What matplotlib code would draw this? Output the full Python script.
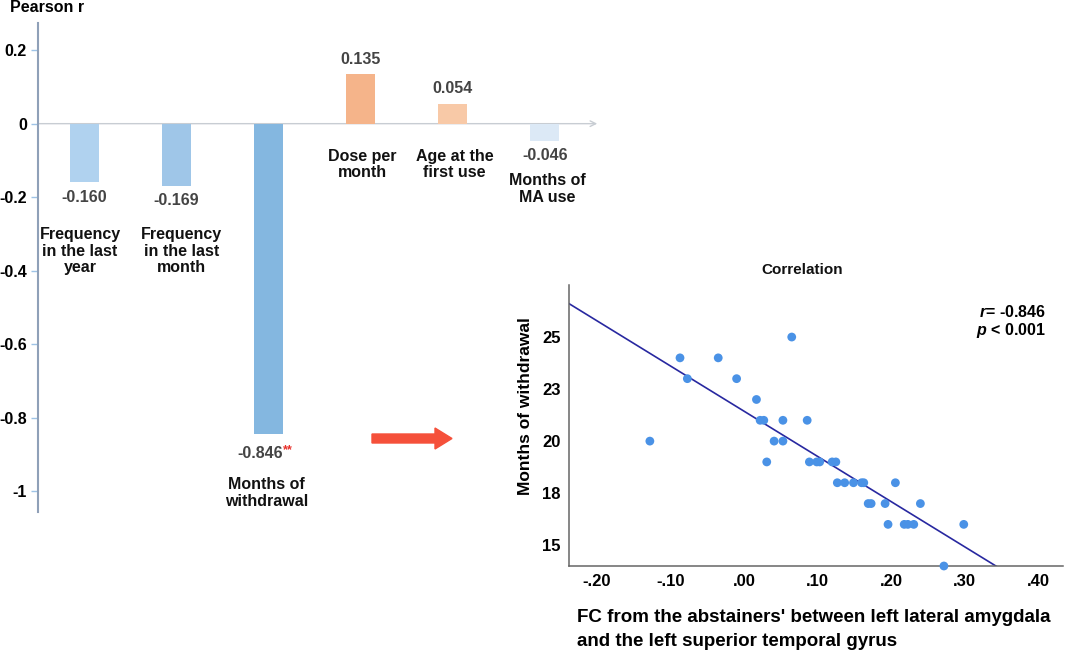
import numpy as np
import matplotlib.pyplot as plt

plt.rcParams['font.family'] = ['Liberation Sans', 'DejaVu Sans']
plt.rcParams['mathtext.fontset'] = 'custom'
plt.rcParams['mathtext.it'] = 'Liberation Sans:italic:bold'

# bar chart data
categories = ["Frequency\nin the last\nyear", "Frequency\nin the last\nmonth", "Months of\nwithdrawal",
              "Dose per\nmonth", "Age at the\nfirst use", "Months of\nMA use"]
pearson_r = [-0.160, -0.169, -0.846, 0.135, 0.054, -0.046]
value_text = ["-0.160", "-0.169", "-0.846", "0.135", "0.054", "-0.046"]
significance = ["", "", "**", "", "", ""]
bar_colors = ["#b0d2ef", "#9fc6e8", "#84b7e0", "#f5b48a", "#f8c9a7", "#dce9f6"]
y_ticks = [0.2, 0, -0.2, -0.4, -0.6, -0.8, -1]
y_tick_labels = ["0.2", "0", "-0.2", "-0.4", "-0.6", "-0.8", "-1"]

# scatter data (FC vs months of withdrawal)
fc_x = [-0.128, -0.087, -0.077, -0.035, -0.010,
        0.017, 0.022, 0.027, 0.053, 0.065,
        0.086, 0.041, 0.053, 0.031, 0.089,
        0.099, 0.103, 0.120, 0.125, 0.127,
        0.137, 0.149, 0.160, 0.163, 0.206,
        0.169, 0.173, 0.192, 0.240, 0.196,
        0.218, 0.223, 0.231, 0.299, 0.272]
months_y = [20, 24, 23, 24, 23,
            22, 21, 21, 21, 25,
            21, 20, 20, 19, 19,
            19, 19, 19, 19, 18,
            18, 18, 18, 18, 18,
            17, 17, 17, 17, 16,
            16, 16, 16, 16, 14]
sc_xticks = [-0.2, -0.1, 0.0, 0.1, 0.2, 0.3, 0.4]
sc_xtick_labels = ["-.20", "-.10", ".00", ".10", ".20", ".30", ".40"]
sc_yticks = [15, 17.5, 20, 22.5, 25]
sc_ytick_labels = ["15", "18", "20", "23", "25"]

W, H = 1065, 652
fig = plt.figure(figsize=(W / 100, H / 100), dpi=100)


def fx(px):
    return px / W


def fy(py):
    return 1 - py / H


# ---- bar chart ----
ax = fig.add_axes([fx(38), fy(512), fx(600 - 38), (512 - 23) / H])
xpos = np.arange(len(pearson_r))
ax.bar(xpos, pearson_r, width=0.315, color=bar_colors, zorder=3)
ax.set_xlim(-0.505, 5.60)
ax.set_ylim(-1.057, 0.274)
for s in ['top', 'right', 'bottom']:
    ax.spines[s].set_visible(False)
ax.spines['left'].set_color('#8fa0b8')
ax.spines['left'].set_linewidth(1.5)
ax.set_xticks([])
ax.set_yticks(y_ticks)
ax.set_yticklabels(y_tick_labels, fontsize=11.5, fontweight='bold')
ax.tick_params(axis='y', direction='out', length=5, width=1, color='#9ec3e6', pad=3)
ax.annotate('', xy=(5.57, 0), xytext=(-0.505, 0),
            arrowprops=dict(arrowstyle='->', color='#c8cdd3', lw=1, shrinkA=0, shrinkB=0),
            annotation_clip=False, zorder=2)

for i, (v, t, star) in enumerate(zip(pearson_r, value_text, significance)):
    off = 10.8 if v > 0 else -10.8
    if star:
        off = -13.5
        ax.annotate(t, (i + 0.16, v), xytext=(0, off), textcoords='offset points',
                    ha='right', va='center', fontsize=11.5, fontweight='bold', color='#444444')
        ax.annotate(star, (i + 0.16, v), xytext=(0, off + 2), textcoords='offset points',
                    ha='left', va='center', fontsize=9, fontweight='bold', color='#e8302a')
    else:
        ax.annotate(t, (i, v), xytext=(0, off), textcoords='offset points',
                    ha='center', va='center', fontsize=11.5, fontweight='bold', color='#444444')

label_pos = [(-0.049, -0.347), (1.056, -0.347), (1.98, -1.005),
             (3.016, -0.111), (4.02, -0.111), (5.025, -0.178)]
for (lx, ly), c in zip(label_pos, categories):
    ax.text(lx, ly, c, ha='center', va='center', multialignment='center',
            fontsize=11.5, fontweight='bold', color='#111111', linespacing=1.15)

fig.text(fx(10), fy(8), "Pearson r", fontsize=11.5, fontweight='bold', va='center', ha='left')

# ---- red arrow ----
fig.patches.append(plt.Polygon(
    [(fx(372), fy(434)), (fx(435), fy(434)), (fx(435), fy(428)), (fx(452), fy(438.5)),
     (fx(435), fy(449)), (fx(435), fy(443)), (fx(372), fy(443))],
    closed=True, transform=fig.transFigure, color='#f5503a', figure=fig))

# ---- scatter ----
ax2 = fig.add_axes([fx(569), fy(566), fx(1063 - 569), (566 - 285) / H])
ax2.scatter(fc_x, months_y, s=40, color='#4a92e6', edgecolors='none', zorder=3, clip_on=False)
ax2.set_xlim(-0.238, 0.434)
ax2.set_ylim(14, 27.5)
slope, intercept = np.polyfit(fc_x, months_y, 1)
lx = np.array([-0.238, 0.434])
ax2.plot(lx, slope * lx + intercept, color='#2828a0', lw=1.2, zorder=2)
for s in ['top', 'right']:
    ax2.spines[s].set_visible(False)
for s in ['left', 'bottom']:
    ax2.spines[s].set_color('#666666')
    ax2.spines[s].set_linewidth(1.1)
ax2.set_xticks(sc_xticks)
ax2.set_xticklabels(sc_xtick_labels, fontsize=12, fontweight='bold')
ax2.set_yticks(sc_yticks)
ax2.set_yticklabels(sc_ytick_labels, fontsize=12, fontweight='bold')
ax2.tick_params(axis='both', length=0)
ax2.tick_params(axis='x', pad=6)
ax2.tick_params(axis='y', pad=6)

fig.text(fx(802), fy(270), "Correlation", fontsize=11, fontweight='bold', ha='center', va='center',
         color='#111111')
fig.text(fx(1046), fy(312), r"$r$= -0.846", fontsize=11.5, fontweight='bold',
         ha='right', va='center')
fig.text(fx(1046), fy(331), r"$p$ < 0.001", fontsize=11.5, fontweight='bold',
         ha='right', va='center')
fig.text(fx(525), fy(406), "Months of withdrawal", fontsize=12.5, fontweight='bold',
         rotation=90, ha='center', va='center')
fig.text(fx(577), fy(617), "FC from the abstainers' between left lateral amygdala",
         fontsize=13.5, fontweight='bold', ha='left', va='center')
fig.text(fx(577), fy(641), "and the left superior temporal gyrus",
         fontsize=13.5, fontweight='bold', ha='left', va='center')

fig.savefig("out.png", dpi=100)
